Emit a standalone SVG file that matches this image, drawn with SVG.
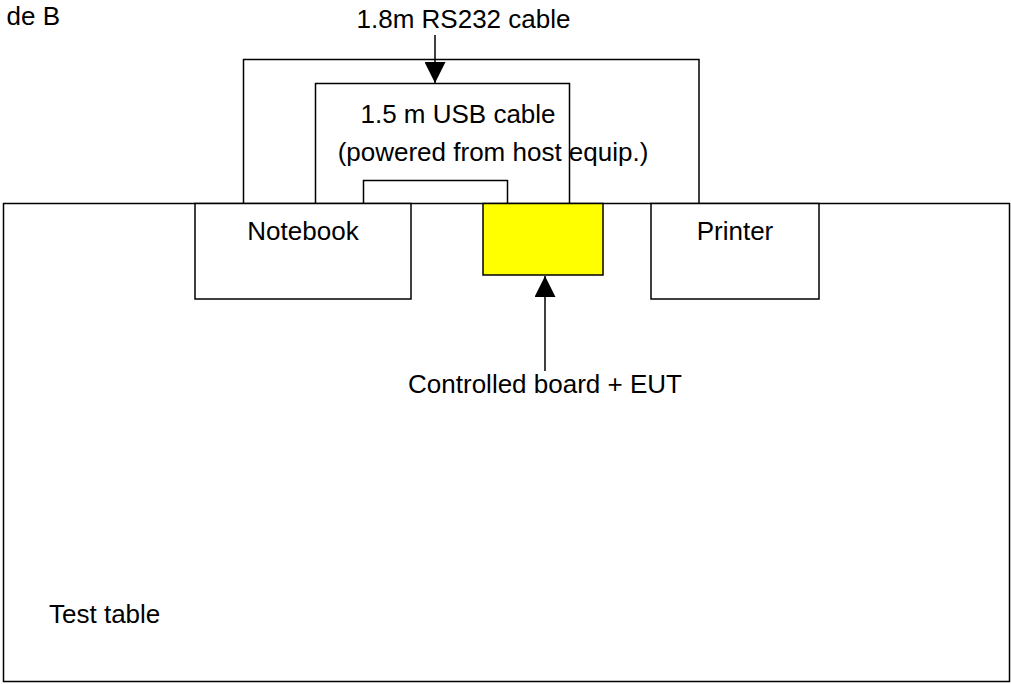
<svg xmlns="http://www.w3.org/2000/svg" width="1011" height="684" viewBox="0 0 1011 684">
  <style>
    .box { fill: #ffffff; stroke: #000000; stroke-width: 1.5; }
    .eut { fill: #ffff00; stroke: #000000; stroke-width: 1.5; }
    .wire { fill: none; stroke: #000000; stroke-width: 1.5; }
    .lbl { font-family: "Liberation Sans", Arial, sans-serif; font-size: 26px; fill: #000000; }
  </style>
  <defs>
    <marker id="arrow" viewBox="0 0 21 21" refX="21" refY="10.5" markerWidth="21" markerHeight="21" markerUnits="userSpaceOnUse" orient="auto">
      <path d="M0,0 L21,10.5 L0,21 Z" fill="#000000"/>
    </marker>
  </defs>
  <rect width="1011" height="684" fill="#ffffff"/>
  <text class="lbl" x="60" y="25" text-anchor="end">de B</text>
  <g id="test-table">
    <rect class="box" x="3.5" y="203.5" width="1006" height="478"/>
    <text class="lbl" x="49" y="623">Test table</text>
  </g>
  <g id="notebook">
    <rect class="box" x="195" y="203.5" width="216" height="95.5"/>
    <text class="lbl" x="303" y="240" text-anchor="middle">Notebook</text>
  </g>
  <g id="eut">
    <rect class="eut" x="483" y="203.5" width="120" height="71.5"/>
  </g>
  <g id="printer">
    <rect class="box" x="651" y="203.5" width="168" height="95.5"/>
    <text class="lbl" x="735" y="240" text-anchor="middle">Printer</text>
  </g>
  <g id="connectors">
    <path class="wire" d="M243.5,203.5 V59.5 H699 V203.5"/>
    <path class="wire" d="M315.5,203.5 V83.5 H569.5 V203.5"/>
    <path class="wire" d="M363.5,203.5 V180.5 H507.5 V203.5"/>
    <line class="wire" x1="435" y1="35" x2="435" y2="83" marker-end="url(#arrow)"/>
    <line class="wire" x1="545" y1="371" x2="545" y2="276" marker-end="url(#arrow)"/>
  </g>
  <g id="labels">
    <text class="lbl" x="463.5" y="28" text-anchor="middle">1.8m RS232 cable</text>
    <text class="lbl" x="458" y="123" text-anchor="middle">1.5 m USB cable</text>
    <text class="lbl" x="493" y="161" text-anchor="middle">(powered from host equip.)</text>
    <text class="lbl" x="545" y="393" text-anchor="middle">Controlled board + EUT</text>
  </g>
</svg>
